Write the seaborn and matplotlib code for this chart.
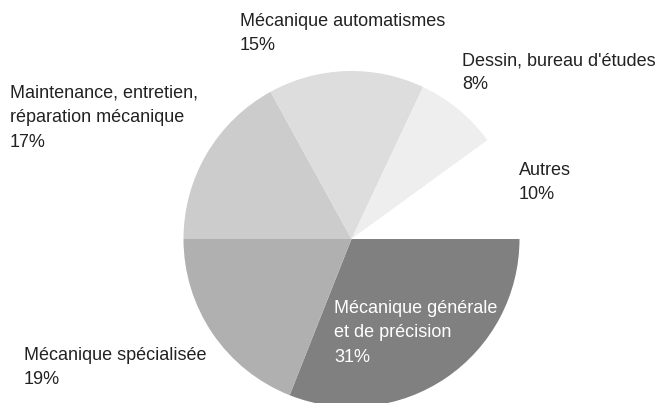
import matplotlib
matplotlib.use("Agg")
import matplotlib.pyplot as plt
import seaborn as sns

# data
categories = ["Mécanique générale\net de précision", "Mécanique spécialisée",
              "Maintenance, entretien,\nréparation mécanique", "Mécanique automatismes",
              "Dessin, bureau d'études", "Autres"]
shares = [31, 19, 17, 15, 8, 10]
colors = ["#808080", "#b0b0b0", "#cccccc", "#dddddd", "#eeeeee", "#ffffff"]

sns.set_theme(style="white")
plt.rcParams["font.family"] = ["Liberation Sans", "DejaVu Sans"]

fig = plt.figure(figsize=(6.6, 4.03), dpi=100)
ax = fig.add_axes([0, 0, 1, 1])

# y axis is inverted below, so counterclock in data = clockwise on screen
ax.pie(shares, colors=colors, startangle=0, counterclock=True,
       center=(351.5, 239), radius=168, frame=True,
       wedgeprops=dict(linewidth=0))
ax.set_xlim(0, 660)
ax.set_ylim(403, 0)
ax.set_aspect("equal")
ax.axis("off")

# label anchors (left, top) in pixels
label_pos = [(334, 300), (24, 347), (10, 85), (240, 13), (462, 52), (519, 162)]
text_colors = ["white", "#222222", "#222222", "#222222", "#222222", "#222222"]

for cat, val, (x, y), tc in zip(categories, shares, label_pos, text_colors):
    ax.text(x, y, f"{cat}\n{val}%", ha="left", va="top", fontsize=13,
            color=tc, linespacing=1.56)

fig.savefig("out.png", dpi=100, facecolor="white")
